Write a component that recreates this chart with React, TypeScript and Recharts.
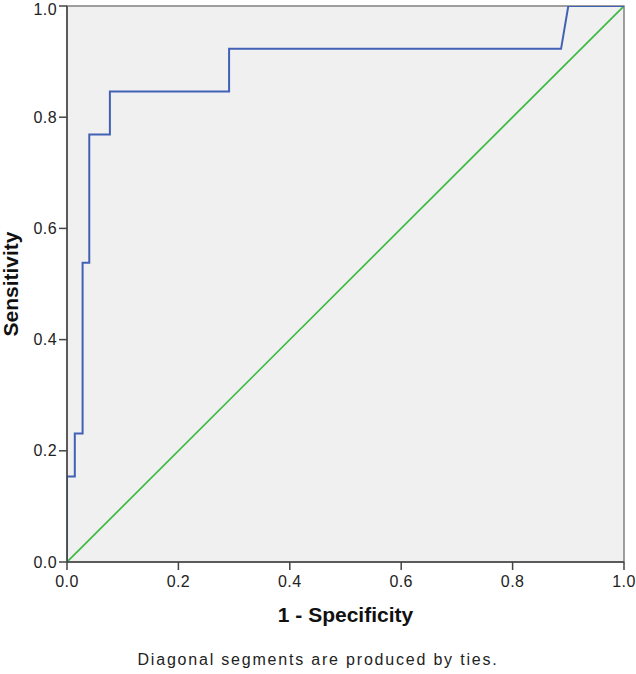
import React from 'react';
import { LineChart, Line, XAxis, YAxis, CartesianGrid, ReferenceArea, Label } from 'recharts';

const fpr = [0, 0, 0.014, 0.014, 0.028, 0.028, 0.04, 0.04, 0.077, 0.077, 0.291, 0.291, 0.887, 0.9, 1.0];
const tpr = [0, 0.154, 0.154, 0.231, 0.231, 0.538, 0.538, 0.769, 0.769, 0.846, 0.846, 0.923, 0.923, 1.0, 1.0];
const refX = [0, 1];
const refY = [0, 1];
const axisTicks = [0, 0.2, 0.4, 0.6, 0.8, 1.0];
const xTitle = '1 - Specificity';
const yTitle = 'Sensitivity';
const footnote = 'Diagonal segments are produced by ties.';

const rocData = fpr.map((x, i) => ({ x, y: tpr[i] }));
const refData = refX.map((x, i) => ({ x, y: refY[i] }));

const FONT = '"Liberation Sans", Arial, sans-serif';
const tickStyle = { fontSize: 16, fill: '#222', fontFamily: FONT, letterSpacing: 0.4 };

export default function App() {
  return (
    <div style={{ position: 'absolute', left: 0, top: 0, width: 636, height: 674, background: '#fff' }}>
      <LineChart width={636} height={674} margin={{ top: 6, right: 12, bottom: 0, left: 0 }}>
        <CartesianGrid fill="#f0f0f0" horizontal={false} vertical={false} />
        <ReferenceArea x1={0} x2={1} y1={0} y2={1} fill="#f0f0f0" fillOpacity={1} stroke="#808080" strokeWidth={1.5} ifOverflow="visible" />
        <XAxis
          dataKey="x"
          type="number"
          domain={[0, 1]}
          ticks={axisTicks}
          tickFormatter={(v: number) => v.toFixed(1)}
          height={112}
          tickSize={8}
          tickMargin={6}
          stroke="#444"
          strokeWidth={1.5}
          tick={tickStyle}
          allowDataOverflow
        >
          <Label
            value={xTitle}
            position="insideBottom"
            offset={52}
            style={{ fontSize: 21, fontWeight: 'bold', fill: '#111', fontFamily: FONT }}
          />
        </XAxis>
        <YAxis
          dataKey="y"
          type="number"
          domain={[0, 1]}
          ticks={axisTicks}
          tickFormatter={(v: number) => v.toFixed(1)}
          width={67}
          tickSize={8}
          tickMargin={2}
          stroke="#444"
          strokeWidth={1.5}
          tick={tickStyle}
          allowDataOverflow
        >
          <Label
            value={yTitle}
            angle={-90}
            position="insideLeft"
            offset={11}
            style={{ fontSize: 21, fontWeight: 'bold', fill: '#111', fontFamily: FONT, textAnchor: 'middle' }}
          />
        </YAxis>
        <Line data={refData} dataKey="y" type="linear" stroke="#3dbb45" strokeWidth={1.7} dot={false} isAnimationActive={false} />
        <Line data={rocData} dataKey="y" type="linear" stroke="#4161b5" strokeWidth={2} dot={false} isAnimationActive={false} />
      </LineChart>
      <div
        style={{
          position: 'absolute',
          left: 0,
          top: 651,
          width: 636,
          textAlign: 'center',
          fontFamily: FONT,
          fontSize: 16,
          color: '#222',
          letterSpacing: 1.8,
          lineHeight: '18px',
        }}
      >
        {footnote}
      </div>
    </div>
  );
}
